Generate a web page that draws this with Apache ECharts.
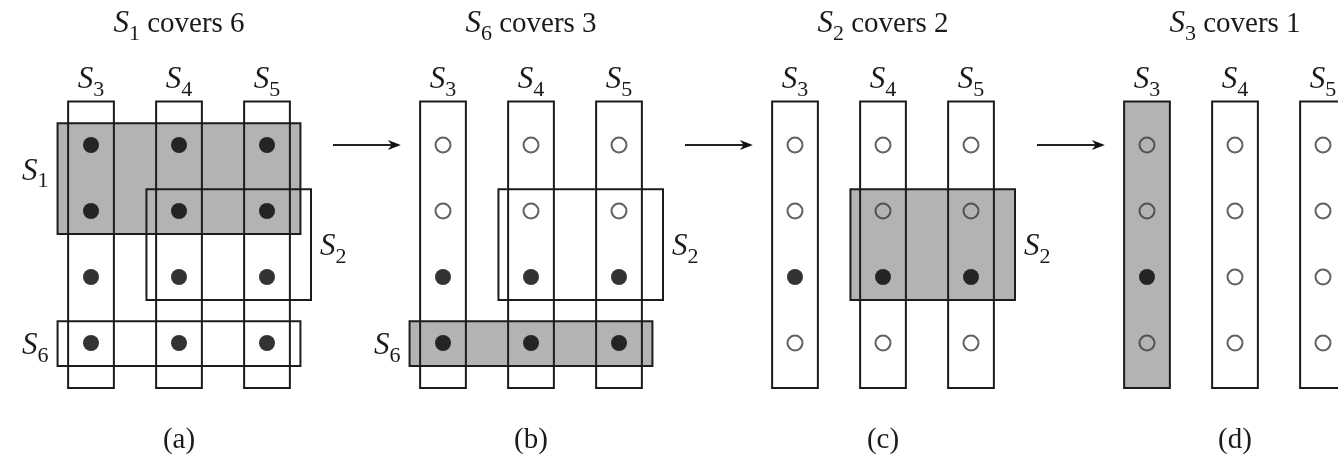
<!DOCTYPE html>
<html>
<head>
<meta charset="utf-8">
<title>Greedy set cover</title>
<script src="https://cdn.jsdelivr.net/npm/echarts@6/dist/echarts.min.js"></script>
<style>
  html, body { margin: 0; padding: 0; background: #fff; }
  #main { width: 1338px; height: 462px; }
</style>
</head>
<body>
<div id="main"></div>
<script>
// elements sit on a grid of 3 columns (S3, S4, S5) by 4 rows
const columnNames = ['S3', 'S4', 'S5'];
const rowCount = 4;
// each set as the block of cells it holds: [first col, last col, first row, last row]
const setNames = ['S1', 'S2', 'S3', 'S4', 'S5', 'S6'];
const setBlocks = [[0, 2, 0, 1], [1, 2, 1, 2], [0, 0, 0, 3], [1, 1, 0, 3], [2, 2, 0, 3], [0, 2, 3, 3]];
// greedy steps, one panel each
const stepPicked = ['S1', 'S6', 'S2', 'S3'];
const stepCovers = [6, 3, 2, 1];
const stepTags = ['(a)', '(b)', '(c)', '(d)'];

// layout (cell units), not data
const PANEL = 4;
const boxPad = { // [left, right, top, bottom]
  S1: [0.38, 0.38, 0.33, 0.35],
  S2: [0.37, 0.5, 0.33, 0.35],
  S3: [0.26, 0.26, 0.66, 0.68],
  S4: [0.26, 0.26, 0.66, 0.68],
  S5: [0.26, 0.26, 0.66, 0.68],
  S6: [0.38, 0.38, 0.33, 0.35]
};
const sideLabel = {S1: ['left', 0.4], S2: ['right', 1.55], S6: ['left', 3.05]};
const FONT = '"Liberation Serif", "DejaVu Serif", serif';
const INK = '#1a1a1a';

const blockOf = n => setBlocks[setNames.indexOf(n)];
const setText = n => '{i|S}{sub|' + n.slice(1) + '}';

const fillBoxes = [], lineBoxes = [], solidDots = [], hollowDots = [], texts = [], arrows = [];

stepPicked.forEach((pick, p) => {
  const done = stepPicked.slice(0, p);
  const x0 = p * PANEL;
  const covered = (c, r) => done.some(n => {
    const b = blockOf(n);
    return c >= b[0] && c <= b[1] && r >= b[2] && r <= b[3];
  });
  for (let c = 0; c < columnNames.length; c++) {
    for (let r = 0; r < rowCount; r++) {
      (covered(c, r) ? hollowDots : solidDots).push([x0 + c, r]);
    }
  }
  const box = n => {
    const b = blockOf(n), pad = boxPad[n];
    return [x0 + b[0] - pad[0], b[2] - pad[2], x0 + b[1] + pad[1], b[3] + pad[3]];
  };
  fillBoxes.push(box(pick));
  setNames.filter(n => done.indexOf(n) < 0).forEach(n => {
    const bx = box(n);
    lineBoxes.push(bx);
    const side = sideLabel[n];
    if (side) {
      const left = side[0] === 'left';
      texts.push({value: [left ? bx[0] : bx[2], side[1]], label: setText(n), align: left ? 'right' : 'left', dx: left ? -9 : 9});
    }
  });
  columnNames.forEach((n, c) => texts.push({value: [x0 + c, -0.98], label: setText(n), align: 'center', dx: 0}));
  texts.push({value: [x0 + 1, -1.83], label: setText(pick) + ' covers ' + stepCovers[p], align: 'center', dx: 0});
  texts.push({value: [x0 + 1, 4.47], label: stepTags[p], align: 'center', dx: 0});
  if (p < stepPicked.length - 1) arrows.push([x0 + 2.75, 0, x0 + PANEL - 0.48, 0]);
});

const rich = {
  i: {fontStyle: 'italic', fontSize: 31, fontFamily: FONT, color: INK},
  sub: {fontSize: 22, fontFamily: FONT, color: INK, padding: [20, 0, 0, 0]}
};

function boxItem(style) {
  return (params, api) => {
    const a = api.coord([api.value(0), api.value(1)]);
    const b = api.coord([api.value(2), api.value(3)]);
    return {type: 'rect', shape: {x: a[0], y: a[1], width: b[0] - a[0], height: b[1] - a[1]}, style: style};
  };
}

const chart = echarts.init(document.getElementById('main'));
chart.setOption({
  animation: false,
  grid: {left: 91, right: 191, top: 145, bottom: 119},
  xAxis: {type: 'value', min: 0, max: 12, show: false},
  yAxis: {type: 'value', min: 0, max: 3, inverse: true, show: false},
  series: [
    {
      type: 'custom', silent: true, clip: false, z: 1,
      data: fillBoxes,
      renderItem: boxItem({fill: '#b3b3b3', stroke: null})
    },
    {
      type: 'custom', silent: true, clip: false, z: 2,
      data: lineBoxes,
      renderItem: boxItem({fill: null, stroke: '#1c1c1c', lineWidth: 2})
    },
    {
      type: 'scatter', silent: true, clip: false, z: 3,
      data: solidDots, symbol: 'circle', symbolSize: 16,
      itemStyle: {color: '#000'}
    },
    {
      type: 'scatter', silent: true, clip: false, z: 3,
      data: hollowDots, symbol: 'circle', symbolSize: 15,
      itemStyle: {color: 'rgba(0,0,0,0)', borderColor: '#3a3a3a', borderWidth: 2}
    },
    {
      type: 'custom', silent: true, clip: false, z: 3,
      data: arrows,
      renderItem: (params, api) => {
        const a = api.coord([api.value(0), api.value(1)]);
        const b = api.coord([api.value(2), api.value(3)]);
        return {type: 'group', children: [
          {type: 'line', shape: {x1: a[0], y1: a[1], x2: b[0] - 8, y2: b[1]}, style: {stroke: '#222', lineWidth: 2}},
          {type: 'polygon', shape: {points: [[b[0], b[1]], [b[0] - 13, b[1] - 5], [b[0] - 9, b[1]], [b[0] - 13, b[1] + 5]]}, style: {fill: '#111'}}
        ]};
      }
    },
    {
      type: 'custom', silent: true, clip: false, z: 4,
      data: texts.map(t => t.value),
      renderItem: (params, api) => {
        const t = texts[params.dataIndex];
        const pt = api.coord(t.value);
        return {
          type: 'text', x: pt[0] + t.dx, y: pt[1],
          style: {
            text: t.label, rich: rich, fill: INK, fontSize: 29, fontFamily: FONT,
            align: t.align, verticalAlign: 'middle'
          }
        };
      }
    }
  ]
});
</script>
</body>
</html>
